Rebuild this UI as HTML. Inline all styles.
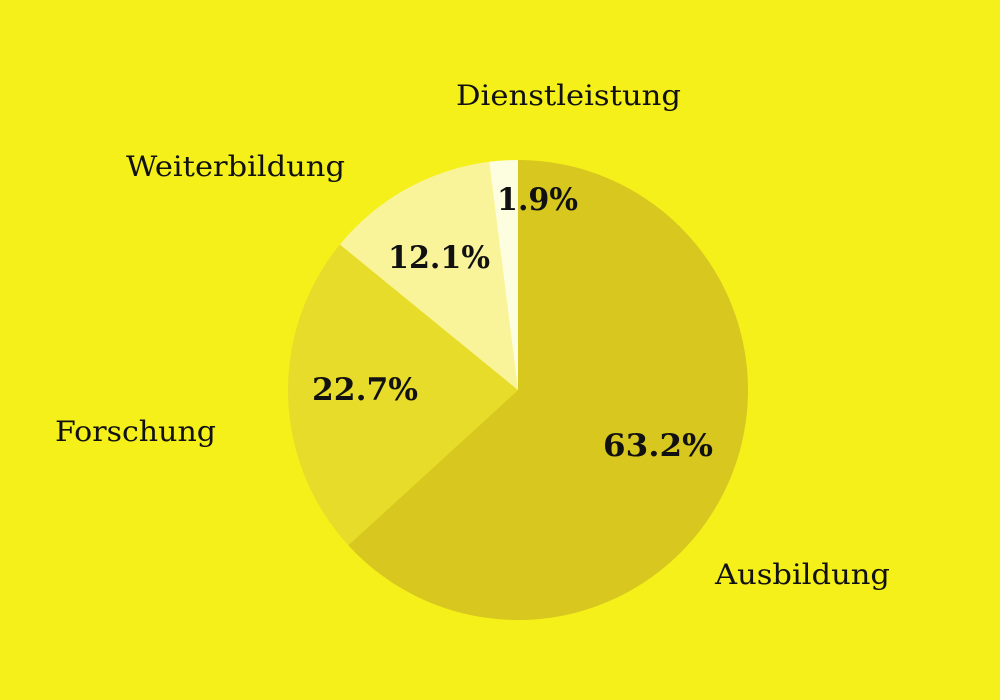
<!DOCTYPE html>
<html><head><meta charset="utf-8"><style>
html,body{margin:0;padding:0;background:#f5ef1a;}
svg{display:block}
</style></head><body>
<svg width="1000" height="700" viewBox="0 0 1000 700" xmlns="http://www.w3.org/2000/svg">
<rect width="1000" height="700" fill="#f5ef1a"/>
<path d="M518,390 L518,160 A230,230 0 1 1 348.3,545.3 Z" fill="#d8c71e"/>
<path d="M518,390 L348.3,545.3 A230,230 0 0 1 339.9,244.5 Z" fill="#e8dc2a"/>
<path d="M518,390 L339.9,244.5 A230,230 0 0 1 489.2,161.8 Z" fill="#f9f49a"/>
<path d="M518,390 L489.2,161.8 A230,230 0 0 1 518,160 Z" fill="#fdfde0"/>
<g font-family="DejaVu Serif, serif" fill="#111" lengthAdjust="spacingAndGlyphs">
<text x="456" y="105" font-size="28" textLength="225" lengthAdjust="spacingAndGlyphs">Dienstleistung</text>
<text x="126" y="176" font-size="28" textLength="219" lengthAdjust="spacingAndGlyphs">Weiterbildung</text>
<text x="55" y="441" font-size="28" textLength="161" lengthAdjust="spacingAndGlyphs">Forschung</text>
<text x="715" y="584" font-size="28" textLength="175" lengthAdjust="spacingAndGlyphs">Ausbildung</text>
<g font-weight="bold" font-size="31">
<text x="497" y="210" textLength="81" lengthAdjust="spacingAndGlyphs">1.9%</text>
<text x="388" y="268" textLength="102" lengthAdjust="spacingAndGlyphs">12.1%</text>
<text x="312" y="400" textLength="106" lengthAdjust="spacingAndGlyphs">22.7%</text>
<text x="603" y="456" textLength="110" lengthAdjust="spacingAndGlyphs">63.2%</text>
</g></g>
</svg>
</body></html>
